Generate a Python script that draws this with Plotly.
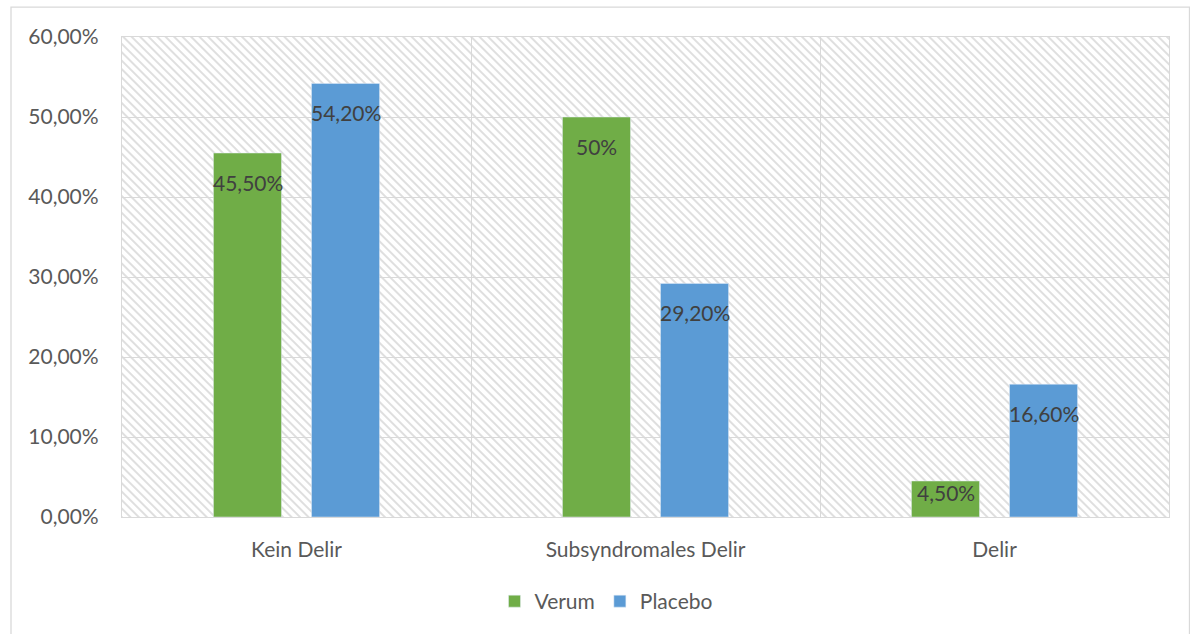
import base64
import plotly.graph_objects as go

categories = ["Kein Delir", "Subsyndromales Delir", "Delir"]
verum = [0.455, 0.50, 0.045]
placebo = [0.542, 0.292, 0.166]
verum_labels = ["45,50%", "50%", "4,50%"]
placebo_labels = ["54,20%", "29,20%", "16,60%"]
series_names = ["Verum", "Placebo"]
y_ticks = [0, 0.1, 0.2, 0.3, 0.4, 0.5, 0.6]
Y_MAX = 0.6

GREEN = "#70AD47"
BLUE = "#5B9BD5"
GRID = "#D9D9D9"
FONT = "Lato, 'Open Sans', sans-serif"
FS = 21

W, H = 1190, 634
L, R, T, B = 122, 21, 37, 115
PW, PH = W - L - R, H - T - B

fig = go.Figure()
fig.add_bar(name=series_names[0], x=categories, y=verum, marker_color=GREEN,
            hoverinfo="skip")
fig.add_bar(name=series_names[1], x=categories, y=placebo, marker_color=BLUE,
            hoverinfo="skip")

# data labels (inside end, as in Excel; short bars keep the label inside)
annotations = []
for labels, vals, xs in ((verum_labels, verum, -49), (placebo_labels, placebo, 49)):
    for c, v, t in zip(categories, vals, labels):
        bar_px = v / Y_MAX * PH
        annotations.append(dict(x=c, y=v, xref="x", yref="y", text=t, showarrow=False,
                                xshift=xs, yshift=-min(29, 0.31 * bar_px),
                                font=dict(family=FONT, size=FS, color="#404040")))

# hatched plot-area background as an SVG image
svg = f'''<svg xmlns="http://www.w3.org/2000/svg" width="{PW}" height="{PH}" viewBox="0 0 {PW} {PH}" preserveAspectRatio="none">
<defs><pattern id="p" patternUnits="userSpaceOnUse" width="6" height="6" patternTransform="rotate(-45)">
<rect x="0" y="0" width="2" height="6" fill="#DFDFDF"/></pattern></defs>
<rect width="{PW}" height="{PH}" fill="white"/>
<rect width="{PW}" height="{PH}" fill="url(#p)"/></svg>'''
uri = "data:image/svg+xml;base64," + base64.b64encode(svg.encode()).decode()

fig.update_layout(
    width=W, height=H,
    margin=dict(l=L, r=R, t=T, b=B, pad=0),
    paper_bgcolor="white",
    plot_bgcolor="rgba(0,0,0,0)",
    separators=",.",
    barmode="group",
    bargap=0.438,
    bargroupgap=0.306,
    font=dict(family=FONT, size=FS, color="#595959"),
    images=[dict(source=uri, xref="paper", yref="paper", x=0, y=1, sizex=1, sizey=1,
                 xanchor="left", yanchor="top", sizing="stretch", layer="below")],
    annotations=annotations,
    legend=dict(orientation="h", x=(606 - L) / PW, xanchor="center", y=-0.176,
                yanchor="middle", font=dict(family=FONT, size=FS, color="#595959"),
                itemwidth=30, traceorder="normal"),
    shapes=[dict(type="rect", xref="paper", yref="paper",
                 x0=(11 - L) / PW, x1=(1189.5 - L) / PW,
                 y0=(PH + T - 700) / PH, y1=(PH + T - 7) / PH,
                 line=dict(color=GRID, width=1.3), fillcolor="rgba(0,0,0,0)", layer="below")],
)
fig.update_xaxes(
    type="category", tickson="boundaries", showgrid=True, gridcolor=GRID, gridwidth=1.3,
    ticks="", showline=True, linecolor=GRID, linewidth=1.3, mirror=True,
    tickfont=dict(family=FONT, size=FS, color="#595959"), ticklabelstandoff=14,
)
fig.update_yaxes(
    range=[0, Y_MAX], tickvals=y_ticks, tickformat=".2%", showgrid=True, gridcolor=GRID,
    gridwidth=1.3, zeroline=False, ticks="", showline=True, linecolor=GRID, linewidth=1.3,
    mirror=True, tickfont=dict(family=FONT, size=FS, color="#595959"), ticklabelstandoff=18,
)
fig.write_html("out.html")
